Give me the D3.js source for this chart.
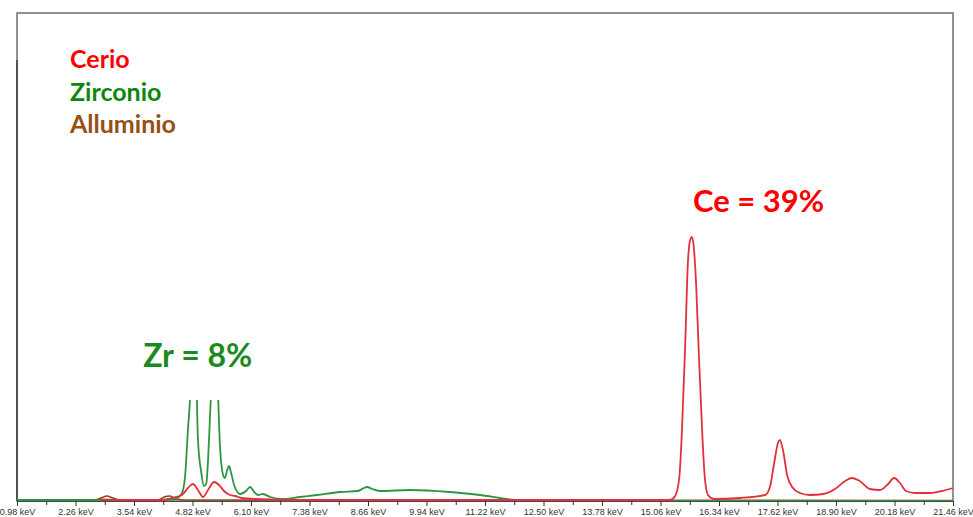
<!DOCTYPE html>
<html>
<head>
<meta charset="utf-8">
<script src="https://cdn.jsdelivr.net/npm/d3@7"></script>
<style>
  html, body { margin: 0; padding: 0; background: #fff; }
  svg { display: block; }
</style>
</head>
<body>
<svg id="chart" width="973" height="517"></svg>
<script>
// EDS spectrum: energy (keV) vs counts for three elements

// Axis tick values (keV)
const majorTicks = [0.98, 2.26, 3.54, 4.82, 6.10, 7.38, 8.66, 9.94, 11.22, 12.50,
                    13.78, 15.06, 16.34, 17.62, 18.90, 20.18, 21.46];

// Cerio (red trace)
const cerioKeV = [2.80, 3.50, 4.11, 4.37, 4.59, 4.72, 4.83, 4.94, 5.05, 5.16, 5.29,
  5.40, 5.51, 5.64, 5.75, 5.90, 6.19, 7.17, 9.00, 12.00, 15.27, 15.38, 15.47, 15.53, 15.60,
  15.66, 15.71, 15.75, 15.79, 15.84, 15.90, 15.97, 16.03, 16.10, 16.23, 16.80, 17.35, 17.46,
  17.54, 17.63, 17.67, 17.74, 17.83, 17.94, 18.11, 18.33, 18.62, 18.88, 19.10, 19.25, 19.42,
  19.64, 19.86, 20.04, 20.17, 20.30, 20.43, 20.63, 20.96, 21.22, 21.46];
const cerioCounts = [3, 2, 2, 6, 12, 26, 34, 22, 8, 22, 38,
  32, 20, 12, 10, 6, 4, 2, 2, 2, 2, 10, 46, 142, 312,
  478, 522, 528, 506, 432, 292, 142, 46, 12, 4, 6, 12, 30,
  72, 116, 122, 102, 52, 28, 16, 12, 14, 24, 40, 46, 40,
  24, 22, 34, 46, 36, 20, 16, 16, 20, 26];

// Zirconio (green trace)
const zirconioKeV = [0.98, 2.80, 4.11, 4.44, 4.59, 4.66, 4.72, 4.77, 4.81, 4.85, 4.90, 4.94,
  5.01, 5.07, 5.12, 5.16, 5.20, 5.25, 5.29, 5.34, 5.38, 5.42, 5.49, 5.53, 5.58, 5.62, 5.66,
  5.73, 5.86, 5.99, 6.08, 6.17, 6.25, 6.36, 6.52, 6.80, 7.17, 7.54, 8.05, 8.44, 8.57, 8.64,
  8.75, 8.92, 9.58, 10.45, 11.11, 11.55, 11.88, 12.10, 21.46];
const zirconioCounts = [2, 2, 2, 4, 16, 52, 142, 212, 322, 342, 262, 122,
  58, 30, 34, 82, 162, 262, 342, 322, 212, 112, 52, 46, 62, 70, 58,
  32, 14, 20, 28, 18, 12, 14, 8, 4, 8, 12, 18, 20, 26, 28,
  24, 20, 22, 18, 12, 6, 2, 0, 0];

// Alluminio (brown trace)
const alluminioKeV = [0.98, 2.69, 2.82, 2.95, 3.08, 3.23, 4.07, 4.20, 4.33, 4.46, 4.66, 21.46];
const alluminioCounts = [2, 2, 6, 10, 6, 2, 2, 8, 10, 4, 2, 1];

// Legend entries and peak annotations
const legendNames = ["Cerio", "Zirconio", "Alluminio"];
const legendColors = ["#ff0000", "#0f870f", "#974f14"];
const annotations = [
  { text: "Zr = 8%", keV: 3.74, color: "#1d8a1d" },
  { text: "Ce = 39%", keV: 15.73, color: "#ff0000" }
];

const svg = d3.select("#chart");
const W = 973, H = 517;
const plot = { left: 17, right: 953, top: 13, bottom: 501 };

svg.append("rect").attr("width", W).attr("height", H).attr("fill", "#fff");

const x = d3.scaleLinear().domain([0.98, 21.46]).range([plot.left, plot.right]);
const y = d3.scaleLinear().domain([0, 976]).range([plot.bottom, plot.top]);

// Frame
svg.append("rect")
  .attr("x", plot.left).attr("y", plot.top)
  .attr("width", plot.right - plot.left).attr("height", plot.bottom - plot.top)
  .attr("fill", "none").attr("stroke", "#6e6e6e").attr("stroke-width", 1.5);
svg.append("line")
  .attr("x1", plot.left).attr("x2", plot.left)
  .attr("y1", 60).attr("y2", plot.bottom)
  .attr("stroke", "#3c3c50").attr("stroke-width", 1.5);

// Spectrum traces
const line = d3.line()
  .x(d => x(d[0]))
  .y(d => y(d[1]))
  .curve(d3.curveMonotoneX);

const series = [
  { keV: alluminioKeV, counts: alluminioCounts, color: "#8a4a1c", width: 1.6 },
  { keV: zirconioKeV, counts: zirconioCounts, color: "#2f9440", width: 1.8 },
  { keV: cerioKeV, counts: cerioCounts, color: "#e2313b", width: 1.8 }
];
series.forEach(s => {
  svg.append("path")
    .datum(d3.zip(s.keV, s.counts))
    .attr("d", line)
    .attr("fill", "none")
    .attr("stroke", s.color)
    .attr("stroke-width", s.width)
    .attr("stroke-linejoin", "round");
});

// X axis: major ticks with labels, minor ticks in between
const minorTicks = majorTicks.slice(0, -1).map((t, i) => (t + majorTicks[i + 1]) / 2);
const axisG = svg.append("g").attr("transform", `translate(0,${plot.bottom})`);
axisG.call(d3.axisBottom(x).tickValues(majorTicks).tickSize(5).tickPadding(3)
    .tickFormat(d => d.toFixed(2) + " keV"));
axisG.select(".domain").attr("stroke", "#4a4a4a");
axisG.selectAll(".tick line").attr("stroke", "#333");
axisG.selectAll(".tick text")
  .attr("font-family", "Liberation Sans, Arial, sans-serif")
  .attr("font-size", 9)
  .attr("fill", "#333");
const minorG = svg.append("g").attr("transform", `translate(0,${plot.bottom})`);
minorG.call(d3.axisBottom(x).tickValues(minorTicks).tickSize(4).tickFormat(""));
minorG.select(".domain").remove();
minorG.selectAll(".tick line").attr("stroke", "#333");

// Legend
legendNames.forEach((name, i) => {
  svg.append("text")
    .attr("x", 70).attr("y", 68 + i * 32.5)
    .attr("font-family", "Lato, 'Open Sans', sans-serif")
    .attr("font-weight", "bold")
    .attr("font-size", 25)
    .attr("fill", legendColors[i])
    .text(name);
});

// Peak annotations on white label boxes
const zr = annotations[0], ce = annotations[1];
svg.append("rect").attr("x", 135).attr("y", 328).attr("width", 130).attr("height", 72).attr("fill", "#fff");
svg.append("text")
  .attr("x", x(zr.keV)).attr("y", 367)
  .attr("font-family", "Lato, 'Open Sans', sans-serif")
  .attr("font-weight", "bold").attr("font-size", 32)
  .attr("fill", zr.color)
  .text(zr.text);
svg.append("text")
  .attr("x", 693).attr("y", 212)
  .attr("font-family", "Lato, 'Open Sans', sans-serif")
  .attr("font-weight", "bold").attr("font-size", 31)
  .attr("fill", ce.color)
  .text(ce.text);
</script>
</body>
</html>
